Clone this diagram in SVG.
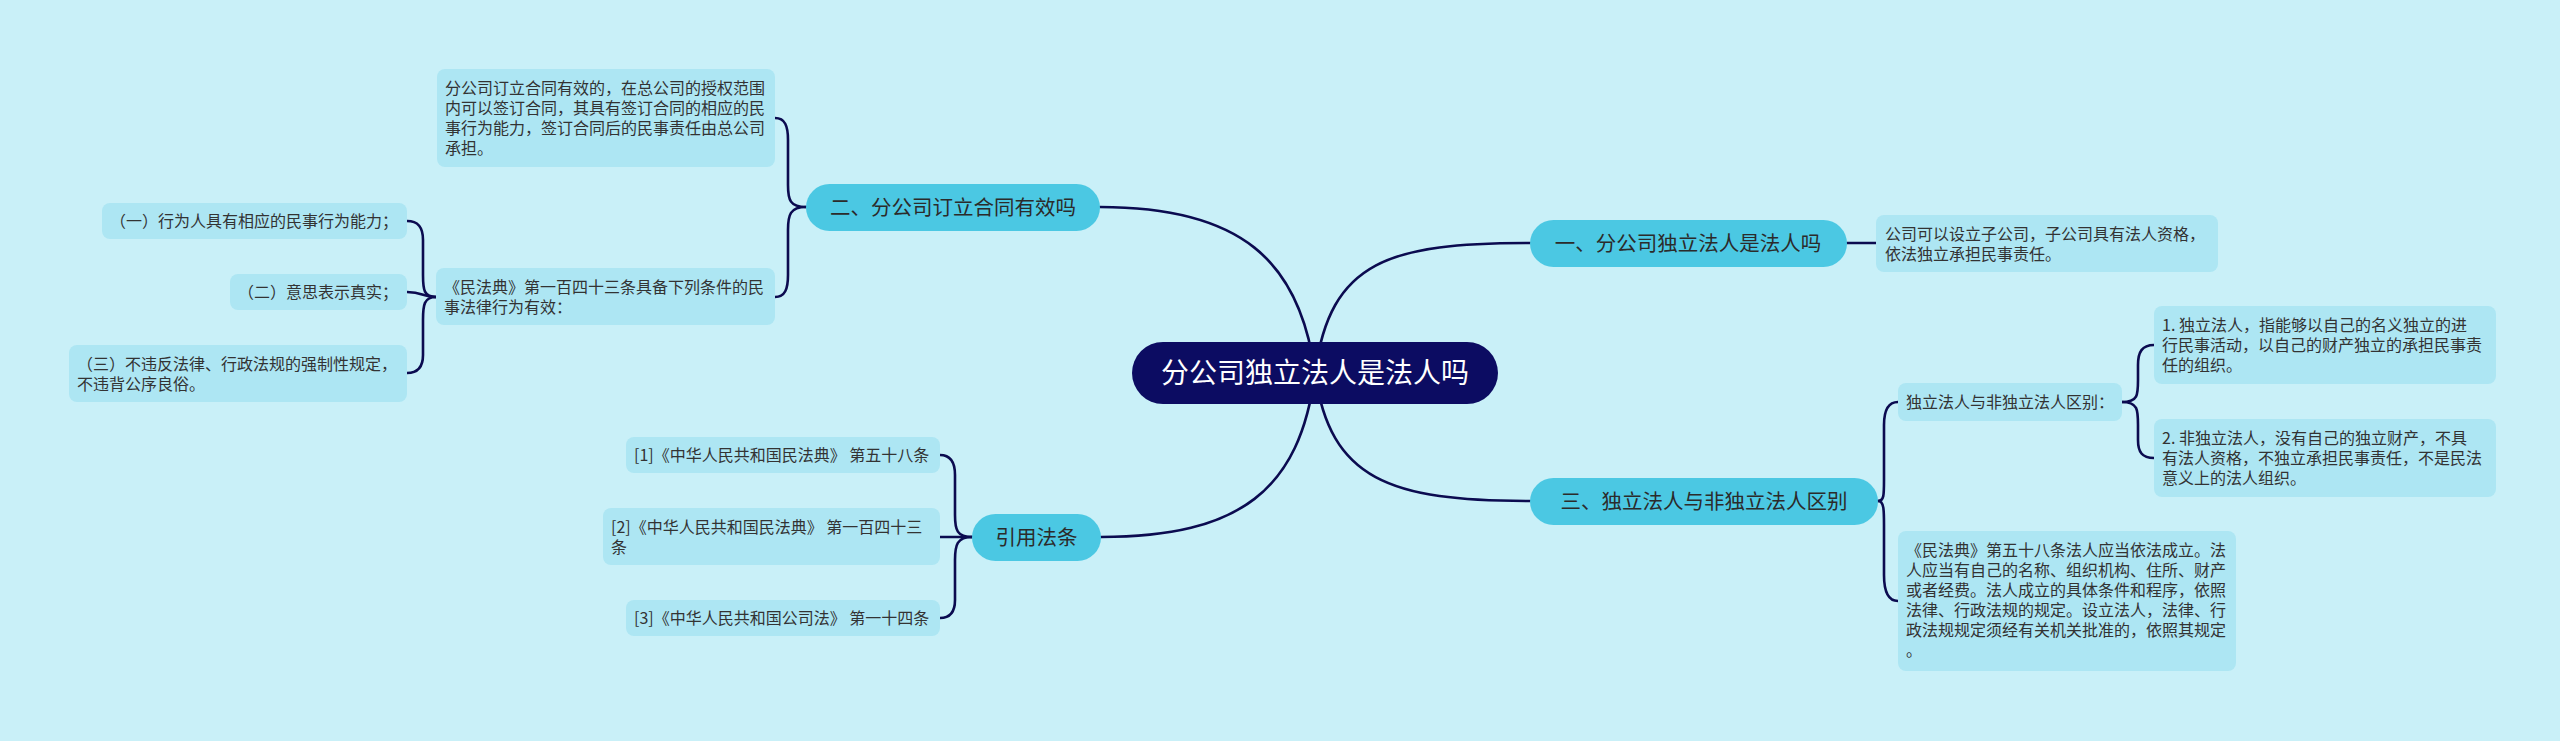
<svg xmlns="http://www.w3.org/2000/svg" width="2560" height="741" viewBox="0 0 2560 741">
<style>
.bg{fill:#c9f0f8}
.ln{fill:none;stroke:#0b0b50;stroke-width:2.6;stroke-linecap:round}
.leaf{fill:#ade6f3}
.br{fill:#4bc8e3}
.root{fill:#0c0c62}
text{font-family:"Noto Sans CJK SC","Noto Sans",sans-serif}
.lt{font-size:16px;fill:#333333}
.bt{font-size:20.5px;fill:#2b2b2b;text-anchor:middle}
.rt{font-size:28px;fill:#ffffff;text-anchor:middle}
</style>
<rect class="bg" x="0" y="0" width="2560" height="741"/>
<g id="connectors">
<path class="ln" d="M 1315 373 C 1330 260, 1390 243, 1530 243"/>
<path class="ln" d="M 1315 373 C 1300 260, 1240 207, 1100 207"/>
<path class="ln" d="M 1315 373 C 1330 480, 1390 501, 1530 501"/>
<path class="ln" d="M 1315 373 C 1300 490, 1240 537, 1101 537"/>
<path class="ln" d="M 1847 243 L 1876 243"/>
<path class="ln" d="M 1878 501 C 1884 501, 1884 495, 1884 480 V 425 C 1884 410, 1888 402, 1898 402"/>
<path class="ln" d="M 1878 501 C 1884 501, 1884 510, 1884 525 V 575 C 1884 590, 1888 601, 1898 601"/>
<path class="ln" d="M 2122 402 C 2138 402, 2138 395, 2138 380 V 365 C 2138 352, 2142 345, 2154 345"/>
<path class="ln" d="M 2122 402 C 2138 402, 2138 410, 2138 425 V 440 C 2138 452, 2142 458, 2154 458"/>
<path class="ln" d="M 806 207 C 790 207, 788 200, 788 185 V 140 C 788 126, 785 118, 775 118"/>
<path class="ln" d="M 806 207 C 790 207, 788 215, 788 230 V 275 C 788 289, 785 297, 775 297"/>
<path class="ln" d="M 436 297 C 424 297, 423 290, 423 275 V 240 C 423 227, 418 221, 407 221"/>
<path class="ln" d="M 436 297 C 423 297, 423 292, 407 292"/>
<path class="ln" d="M 436 297 C 424 297, 423 305, 423 320 V 355 C 423 367, 418 373, 407 373"/>
<path class="ln" d="M 972 537 C 957 537, 955 530, 955 515 V 475 C 955 462, 950 455, 940 455"/>
<path class="ln" d="M 972 537 H 940"/>
<path class="ln" d="M 972 537 C 957 537, 955 545, 955 560 V 600 C 955 612, 950 618, 940 618"/>
</g>
<g id="root">
<rect class="root" x="1132" y="342" width="366" height="62" rx="31"/>
<text class="rt" x="1315" y="383">分公司独立法人是法人吗</text>
</g>
<g id="b1">
<rect class="br" x="1530" y="220" width="317" height="47" rx="23.5"/>
<text class="bt" x="1688" y="251">一、分公司独立法人是法人吗</text>
</g>
<g id="b1-leaf">
<rect class="leaf" x="1876" y="215" width="342" height="57" rx="8"/>
<text class="lt"><tspan x="1885" y="240">公司可以设立子公司，子公司具有法人资格，</tspan><tspan x="1885" y="260">依法独立承担民事责任。</tspan></text>
</g>
<g id="b3">
<rect class="br" x="1530" y="478" width="348" height="47" rx="23.5"/>
<text class="bt" x="1704" y="509">三、独立法人与非独立法人区别</text>
</g>
<g id="b3-sub">
<rect class="leaf" x="1898" y="383" width="224" height="38" rx="8"/>
<text class="lt" x="1906" y="408">独立法人与非独立法人区别：</text>
</g>
<g id="b3-sub-a">
<rect class="leaf" x="2154" y="306" width="342" height="78" rx="8"/>
<text class="lt"><tspan x="2162" y="331">1. 独立法人，指能够以自己的名义独立的进</tspan><tspan x="2162" y="351">行民事活动，以自己的财产独立的承担民事责</tspan><tspan x="2162" y="371">任的组织。</tspan></text>
</g>
<g id="b3-sub-b">
<rect class="leaf" x="2154" y="419" width="342" height="78" rx="8"/>
<text class="lt"><tspan x="2162" y="444">2. 非独立法人，没有自己的独立财产，不具</tspan><tspan x="2162" y="464">有法人资格，不独立承担民事责任，不是民法</tspan><tspan x="2162" y="484">意义上的法人组织。</tspan></text>
</g>
<g id="b3-leaf">
<rect class="leaf" x="1898" y="531" width="338" height="140" rx="8"/>
<text class="lt"><tspan x="1906" y="556">《民法典》第五十八条法人应当依法成立。法</tspan><tspan x="1906" y="576">人应当有自己的名称、组织机构、住所、财产</tspan><tspan x="1906" y="596">或者经费。法人成立的具体条件和程序，依照</tspan><tspan x="1906" y="616">法律、行政法规的规定。设立法人，法律、行</tspan><tspan x="1906" y="636">政法规规定须经有关机关批准的，依照其规定</tspan><tspan x="1906" y="656">。</tspan></text>
</g>
<g id="b2">
<rect class="br" x="806" y="184" width="294" height="47" rx="23.5"/>
<text class="bt" x="953" y="215">二、分公司订立合同有效吗</text>
</g>
<g id="b2-leaf1">
<rect class="leaf" x="437" y="69" width="338" height="98" rx="8"/>
<text class="lt"><tspan x="445" y="94">分公司订立合同有效的，在总公司的授权范围</tspan><tspan x="445" y="114">内可以签订合同，其具有签订合同的相应的民</tspan><tspan x="445" y="134">事行为能力，签订合同后的民事责任由总公司</tspan><tspan x="445" y="154">承担。</tspan></text>
</g>
<g id="b2-leaf2">
<rect class="leaf" x="436" y="268" width="339" height="57" rx="8"/>
<text class="lt"><tspan x="444" y="293">《民法典》第一百四十三条具备下列条件的民</tspan><tspan x="444" y="313">事法律行为有效：</tspan></text>
</g>
<g id="c1">
<rect class="leaf" x="102" y="203" width="305" height="36" rx="8"/>
<text class="lt" x="110" y="227">（一）行为人具有相应的民事行为能力；</text>
</g>
<g id="c2">
<rect class="leaf" x="230" y="274" width="177" height="36" rx="8"/>
<text class="lt" x="238" y="298">（二）意思表示真实；</text>
</g>
<g id="c3">
<rect class="leaf" x="69" y="345" width="338" height="57" rx="8"/>
<text class="lt"><tspan x="77" y="370">（三）不违反法律、行政法规的强制性规定，</tspan><tspan x="77" y="390">不违背公序良俗。</tspan></text>
</g>
<g id="b4">
<rect class="br" x="972" y="514" width="129" height="47" rx="23.5"/>
<text class="bt" x="1036.5" y="545">引用法条</text>
</g>
<g id="r1">
<rect class="leaf" x="626" y="437" width="314" height="36" rx="8"/>
<text class="lt" x="634" y="461">[1]《中华人民共和国民法典》 第五十八条</text>
</g>
<g id="r2">
<rect class="leaf" x="603" y="508" width="337" height="57" rx="8"/>
<text class="lt"><tspan x="611" y="533">[2]《中华人民共和国民法典》 第一百四十三</tspan><tspan x="611" y="553">条</tspan></text>
</g>
<g id="r3">
<rect class="leaf" x="626" y="600" width="314" height="36" rx="8"/>
<text class="lt" x="634" y="624">[3]《中华人民共和国公司法》 第一十四条</text>
</g>
</svg>
